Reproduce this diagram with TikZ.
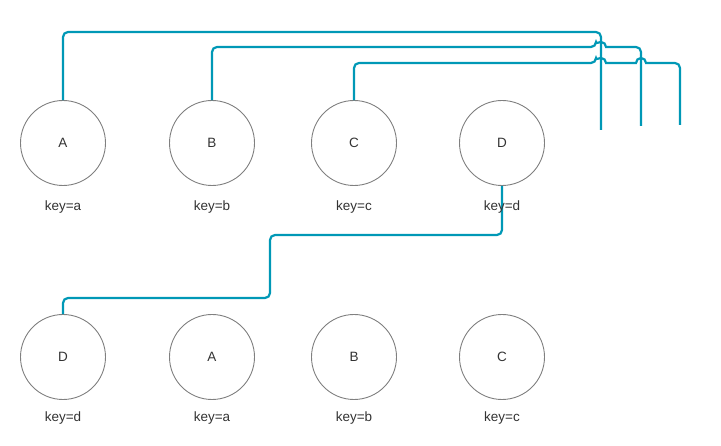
\documentclass[tikz,border=0pt]{standalone}
\usepackage{fontspec}
\setmainfont{Liberation Sans}
\definecolor{linkcol}{HTML}{0098B6}
\definecolor{ringcol}{HTML}{808080}
\definecolor{txtcol}{HTML}{333333}
\begin{document}
\begin{tikzpicture}[x=1pt,y=-1pt,
  ring/.style={draw=ringcol,line width=0.9pt,circle,minimum size=85pt,inner sep=0pt,text=txtcol,font=\fontsize{13.5}{16}\selectfont},
  keylab/.style={text=txtcol,font=\fontsize{13.5}{16}\selectfont,inner sep=0pt},
  conn/.style={draw=linkcol,line width=2.2pt,rounded corners=5pt}]
\useasboundingbox (0,0) rectangle (721,446);
% top row
\node[ring] (A1) at (63,143) {A};
\node[ring] (B1) at (212,143) {B};
\node[ring] (C1) at (354,143) {C};
\node[ring] (D1) at (502,143) {D};
% bottom row
\node[ring] (D2) at (63,357) {D};
\node[ring] (A2) at (212,357) {A};
\node[ring] (B2) at (354,357) {B};
\node[ring] (C2) at (502,357) {C};
% free ends
\coordinate (aEnd) at (601,130);
\coordinate (bEnd) at (641,126);
\coordinate (cEnd) at (680,125);
% connectors
\draw[conn] (A1.north) -- (63,32) -- (601,32) -- (aEnd);
\draw[conn] (B1.north) -- (212,47) -- (596,47) [sharp corners] arc[start angle=180,end angle=0,radius=5pt] [rounded corners=5pt] -- (641,47) -- (bEnd);
\draw[conn] (C1.north) -- (354,63) -- (596,63) [sharp corners] arc[start angle=180,end angle=0,radius=5pt] -- (636,63) arc[start angle=180,end angle=0,radius=5pt] [rounded corners=5pt] -- (680,63) -- (cEnd);
\draw[conn] (D1.south) -- (502,235) -- (270,235) -- (270,298) -- (63,298) -- (D2.north);
% labels
\node[keylab] (ka1) at (63,207) {key=a};
\node[keylab] (kb1) at (212,207) {key=b};
\node[keylab] (kc1) at (354,207) {key=c};
\node[keylab] (kd1) at (502,207) {key=d};
\node[keylab] (kd2) at (63,418) {key=d};
\node[keylab] (ka2) at (212,418) {key=a};
\node[keylab] (kb2) at (354,418) {key=b};
\node[keylab] (kc2) at (502,418) {key=c};
\end{tikzpicture}
\end{document}
